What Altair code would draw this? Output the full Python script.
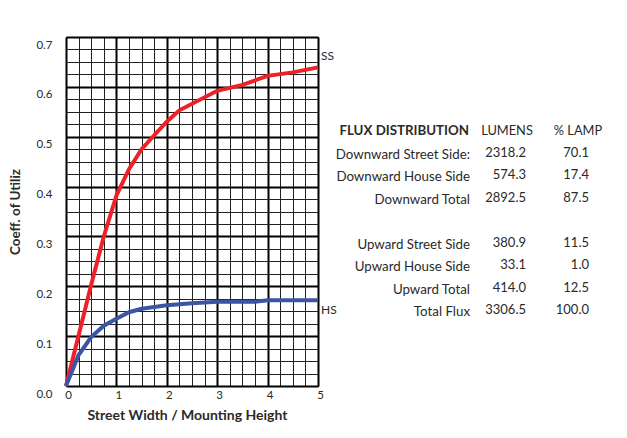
import altair as alt
import pandas as pd

# ---- curve data ----
ss_x = [0, 0.5, 0.75, 1.0, 1.25, 1.5, 1.75, 2.0, 2.25, 3.0, 3.5, 4.0, 4.5, 5.0]
ss_y = [0, 0.203, 0.300, 0.382, 0.435, 0.475, 0.503, 0.530, 0.553, 0.592, 0.604, 0.622, 0.629, 0.639]
hs_x = [0, 0.25, 0.5, 0.75, 1.0, 1.25, 1.5, 2.0, 2.5, 3.0, 3.75, 4.0, 5.0]
hs_y = [0, 0.062, 0.098, 0.121, 0.135, 0.148, 0.155, 0.162, 0.166, 0.169, 0.169, 0.172, 0.172]

x_ticks = [0, 1, 2, 3, 4, 5]
y_ticks = [0.0, 0.1, 0.2, 0.3, 0.4, 0.5, 0.6, 0.7]
x_minor = [i * 0.25 for i in range(21)]
y_minor = [round(i * 0.025, 3) for i in range(29)]

# ---- flux table ----
table_labels = ["Downward Street Side:", "Downward House Side", "Downward Total", None,
                "Upward Street Side", "Upward House Side", "Upward Total", "Total Flux"]
lumens = [2318.2, 574.3, 2892.5, None, 380.9, 33.1, 414.0, 3306.5]
pct_lamp = [70.1, 17.4, 87.5, None, 11.5, 1.0, 12.5, 100.0]
header = ["FLUX DISTRIBUTION", "LUMENS", "% LAMP"]

curves = pd.DataFrame(
    [{"series": "SS", "x": a, "y": b} for a, b in zip(ss_x, ss_y)]
    + [{"series": "HS", "x": a, "y": b} for a, b in zip(hs_x, hs_y)]
)
ends = pd.DataFrame([
    {"series": "SS", "x": ss_x[-1], "y": ss_y[-1]},
    {"series": "HS", "x": hs_x[-1], "y": hs_y[-1]},
])

rows = []
for i, (lab, lu, pc) in enumerate(zip(table_labels, lumens, pct_lamp)):
    if lab is None:
        continue
    rows.append({"row": i + 1, "label": lab, "lumens": lu, "pct": pc})
table = pd.DataFrame(rows)
head = pd.DataFrame([{"row": 0, "h0": header[0], "h1": header[1], "h2": header[2]}])

RED = "#ED2127"
BLUE = "#3B54A3"
TXT = "#2a2a2a"
FONT = "Lato"

xs = alt.Scale(domain=[0, 5], nice=False, zero=False)
ys = alt.Scale(domain=[0, 0.7], nice=False, zero=False)

minor = alt.Chart(curves).mark_line(opacity=0).encode(
    x=alt.X("x:Q", scale=xs, axis=alt.Axis(values=x_minor, grid=True, gridColor="#222222",
                                           gridWidth=1, labels=False, ticks=False, domain=False,
                                           title=None, orient="top")),
    y=alt.Y("y:Q", scale=ys, axis=alt.Axis(values=y_minor, grid=True, gridColor="#222222",
                                           gridWidth=1, labels=False, ticks=False, domain=False,
                                           title=None, orient="right")),
)

lines = alt.Chart(curves).mark_line(strokeWidth=4).encode(
    x=alt.X("x:Q", scale=xs, axis=alt.Axis(
        values=x_ticks, format="d", grid=True, gridColor="#000000", gridWidth=2,
        ticks=False, domain=False, labelFlush=False, labelOffset=2, labelPadding=3,
        labelFontSize=11.5, labelColor=TXT, labelFont=FONT,
        title="Street Width / Mounting Height", titleFont=FONT, titleFontSize=14,
        titleFontWeight="bold", titleColor=TXT, titlePadding=8, titleX=121,
        titleAlign="center", orient="bottom")),
    y=alt.Y("y:Q", scale=ys, axis=alt.Axis(
        values=y_ticks, format=".1f", grid=True, gridColor="#000000", gridWidth=2,
        ticks=False, domain=False, labelFlush=False, labelOffset=8, labelPadding=14,
        labelFontSize=11.5, labelColor=TXT, labelFont=FONT,
        title="Coeff. of Utiliz", titleFont=FONT, titleFontSize=13.5,
        titleFontWeight="bold", titleColor=TXT, titlePadding=13, orient="left")),
    color=alt.Color("series:N", scale=alt.Scale(domain=["SS", "HS"], range=[RED, BLUE]), legend=None),
    detail="series:N",
)

ss_lab = alt.Chart(ends).transform_filter(alt.datum.series == "SS").mark_text(
    align="left", baseline="middle", dx=3, dy=-11, fontSize=12, font=FONT, color=TXT
).encode(x=alt.X("x:Q", scale=xs, axis=None), y=alt.Y("y:Q", scale=ys, axis=None), text="series:N")

hs_lab = alt.Chart(ends).transform_filter(alt.datum.series == "HS").mark_text(
    align="left", baseline="middle", dx=3, dy=10, fontSize=12, font=FONT, color=TXT
).encode(x=alt.X("x:Q", scale=xs, axis=None), y=alt.Y("y:Q", scale=ys, axis=None), text="series:N")

plot = alt.layer(minor, lines, ss_lab, hs_lab).resolve_axis(x="independent", y="independent")

ts = alt.Scale(domain=[-4.178, 11.333], reverse=True, nice=False, zero=False)
ty = alt.Y("row:Q", scale=ts, axis=None)

def txt(df, field, xpos, align, bold=False, dy=0, fmt=None, size=13.3):
    enc_text = alt.Text(f"{field}:Q", format=fmt) if fmt else alt.Text(f"{field}:N")
    return alt.Chart(df).mark_text(
        align=align, baseline="middle", fontSize=size, font=FONT, color=TXT,
        fontWeight="bold" if bold else "normal", dy=dy
    ).encode(x=alt.value(xpos), y=ty, text=enc_text)

tbl = alt.layer(
    txt(head, "h0", 403, "right", bold=True),
    txt(head, "h1", 441, "center", size=12.8),
    txt(head, "h2", 512, "center", size=12.8),
    txt(table, "label", 404, "right", dy=1),
    txt(table, "lumens", 460, "right", dy=-1, fmt=".1f", size=13),
    txt(table, "pct", 523, "right", dy=-1, fmt=".1f", size=13),
)

chart = alt.layer(plot, tbl).resolve_scale(y="independent").properties(
    width=252, height=349,
    padding={"left": 0, "top": 29, "right": 5, "bottom": 5},
    background="white",
).configure_view(stroke=None)

chart.save("out.html", embed_options={"renderer": "svg", "actions": False})
